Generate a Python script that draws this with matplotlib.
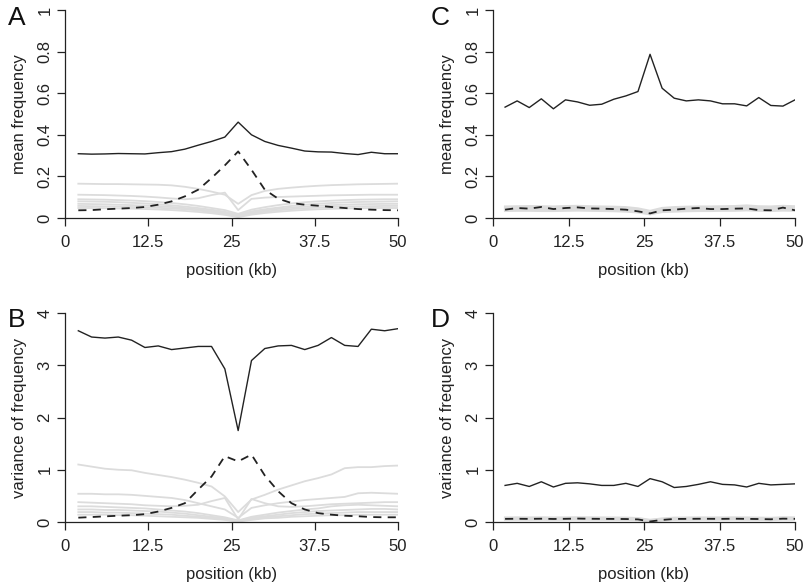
import matplotlib
matplotlib.use("Agg")
import matplotlib.pyplot as plt

plt.rcParams['font.family'] = ['Liberation Sans', 'DejaVu Sans']

# positions (kb)
pos = [2, 4, 6, 8, 10, 12, 14, 16, 18, 20, 22, 24, 26,
       28, 30, 32, 34, 36, 38, 40, 42, 44, 46, 48, 50]
xticks = [0, 12.5, 25, 37.5, 50]
xticklabels = ['0', '12.5', '25', '37.5', '50']

# ---- panel A : mean frequency ----
meanA_solid = [0.309, 0.307, 0.308, 0.310, 0.309, 0.308, 0.314, 0.319, 0.331, 0.350, 0.368, 0.389, 0.461,
               0.400, 0.368, 0.349, 0.336, 0.322, 0.318, 0.317, 0.310, 0.305, 0.316, 0.309, 0.309]
meanA_dash = [0.037, 0.038, 0.042, 0.045, 0.048, 0.053, 0.064, 0.080, 0.104, 0.136, 0.192, 0.253, 0.320,
              0.232, 0.136, 0.093, 0.072, 0.064, 0.059, 0.053, 0.048, 0.043, 0.040, 0.038, 0.037]
meanA_grey = [
    [0.165, 0.164, 0.163, 0.163, 0.162, 0.161, 0.160, 0.157, 0.150, 0.140, 0.127, 0.112, 0.068,
     0.110, 0.130, 0.140, 0.146, 0.151, 0.155, 0.158, 0.160, 0.162, 0.163, 0.164, 0.165],
    [0.112, 0.111, 0.110, 0.108, 0.106, 0.103, 0.099, 0.094, 0.090, 0.095, 0.110, 0.122, 0.038,
     0.092, 0.098, 0.101, 0.103, 0.105, 0.107, 0.109, 0.110, 0.111, 0.112, 0.112, 0.112],
    [0.090, 0.089, 0.088, 0.086, 0.084, 0.081, 0.077, 0.072, 0.066, 0.058, 0.048, 0.038, 0.020,
     0.040, 0.052, 0.062, 0.070, 0.076, 0.080, 0.083, 0.086, 0.088, 0.089, 0.090, 0.090],
    [0.080, 0.079, 0.078, 0.076, 0.073, 0.070, 0.066, 0.061, 0.055, 0.048, 0.040, 0.030, 0.015,
     0.032, 0.042, 0.050, 0.058, 0.064, 0.069, 0.072, 0.075, 0.077, 0.078, 0.079, 0.080],
    [0.068, 0.067, 0.066, 0.064, 0.062, 0.060, 0.057, 0.053, 0.048, 0.042, 0.034, 0.024, 0.010,
     0.026, 0.036, 0.044, 0.050, 0.055, 0.059, 0.062, 0.064, 0.066, 0.067, 0.068, 0.068],
    [0.058, 0.057, 0.056, 0.055, 0.053, 0.051, 0.049, 0.046, 0.042, 0.036, 0.029, 0.020, 0.007,
     0.021, 0.030, 0.037, 0.043, 0.047, 0.050, 0.053, 0.055, 0.056, 0.057, 0.058, 0.058],
    [0.048, 0.048, 0.047, 0.046, 0.045, 0.043, 0.041, 0.038, 0.034, 0.029, 0.023, 0.015, 0.004,
     0.016, 0.024, 0.030, 0.035, 0.039, 0.042, 0.044, 0.046, 0.047, 0.048, 0.048, 0.048],
]

# ---- panel B : variance of frequency ----
varB_solid = [3.66, 3.54, 3.52, 3.54, 3.48, 3.34, 3.37, 3.30, 3.33, 3.36, 3.36, 2.93, 1.75,
              3.09, 3.32, 3.37, 3.38, 3.30, 3.38, 3.53, 3.38, 3.36, 3.69, 3.66, 3.70]
varB_dash = [0.083, 0.095, 0.108, 0.12, 0.13, 0.15, 0.20, 0.27, 0.36, 0.62, 0.87, 1.26, 1.16,
             1.29, 0.89, 0.59, 0.36, 0.24, 0.17, 0.14, 0.12, 0.11, 0.095, 0.09, 0.09]
varB_grey = [
    [1.10, 1.06, 1.02, 1.00, 0.99, 0.94, 0.90, 0.86, 0.81, 0.75, 0.68, 0.49, 0.19,
     0.43, 0.52, 0.62, 0.70, 0.78, 0.84, 0.91, 1.03, 1.05, 1.05, 1.07, 1.08],
    [0.54, 0.54, 0.53, 0.53, 0.52, 0.50, 0.48, 0.46, 0.42, 0.36, 0.30, 0.24, 0.08,
     0.27, 0.32, 0.36, 0.39, 0.42, 0.44, 0.46, 0.48, 0.55, 0.56, 0.55, 0.54],
    [0.38, 0.37, 0.36, 0.35, 0.34, 0.32, 0.31, 0.30, 0.31, 0.33, 0.40, 0.46, 0.05,
     0.44, 0.36, 0.30, 0.29, 0.30, 0.32, 0.34, 0.35, 0.36, 0.37, 0.38, 0.38],
    [0.30, 0.30, 0.29, 0.28, 0.27, 0.26, 0.24, 0.22, 0.20, 0.17, 0.13, 0.09, 0.03,
     0.10, 0.14, 0.18, 0.21, 0.24, 0.26, 0.30, 0.32, 0.33, 0.32, 0.31, 0.30],
    [0.24, 0.24, 0.23, 0.23, 0.22, 0.21, 0.20, 0.18, 0.16, 0.13, 0.10, 0.07, 0.02,
     0.08, 0.11, 0.14, 0.17, 0.19, 0.21, 0.22, 0.23, 0.24, 0.25, 0.25, 0.24],
    [0.19, 0.19, 0.18, 0.18, 0.17, 0.16, 0.15, 0.14, 0.12, 0.10, 0.08, 0.05, 0.01,
     0.06, 0.09, 0.11, 0.13, 0.15, 0.16, 0.17, 0.18, 0.19, 0.19, 0.19, 0.19],
    [0.14, 0.14, 0.14, 0.13, 0.13, 0.12, 0.11, 0.10, 0.09, 0.08, 0.06, 0.04, 0.01,
     0.04, 0.07, 0.08, 0.10, 0.11, 0.12, 0.13, 0.13, 0.14, 0.14, 0.14, 0.14],
]

# ---- panel C : mean frequency ----
meanC_solid = [0.533, 0.563, 0.531, 0.573, 0.525, 0.568, 0.558, 0.542, 0.547, 0.571, 0.587, 0.608, 0.787,
               0.624, 0.576, 0.563, 0.568, 0.563, 0.549, 0.549, 0.539, 0.579, 0.541, 0.538, 0.568]
meanC_dash = [0.040, 0.048, 0.045, 0.053, 0.043, 0.048, 0.051, 0.046, 0.045, 0.043, 0.040, 0.032, 0.022,
              0.037, 0.040, 0.045, 0.048, 0.043, 0.043, 0.045, 0.046, 0.038, 0.037, 0.050, 0.037]
meanC_grey = [
    [0.055, 0.056, 0.057, 0.056, 0.055, 0.057, 0.058, 0.056, 0.055, 0.054, 0.052, 0.046, 0.034,
     0.048, 0.052, 0.054, 0.055, 0.055, 0.056, 0.057, 0.060, 0.056, 0.055, 0.058, 0.056],
    [0.050, 0.051, 0.052, 0.051, 0.050, 0.052, 0.053, 0.051, 0.050, 0.049, 0.047, 0.041, 0.030,
     0.043, 0.047, 0.049, 0.050, 0.050, 0.051, 0.052, 0.054, 0.051, 0.050, 0.053, 0.051],
    [0.046, 0.047, 0.047, 0.046, 0.046, 0.047, 0.048, 0.047, 0.046, 0.045, 0.043, 0.037, 0.027,
     0.039, 0.043, 0.045, 0.046, 0.046, 0.047, 0.047, 0.049, 0.047, 0.046, 0.048, 0.047],
    [0.042, 0.043, 0.043, 0.042, 0.042, 0.043, 0.044, 0.043, 0.042, 0.041, 0.039, 0.034, 0.024,
     0.036, 0.039, 0.041, 0.042, 0.042, 0.043, 0.043, 0.045, 0.043, 0.042, 0.044, 0.043],
    [0.038, 0.039, 0.039, 0.038, 0.038, 0.039, 0.040, 0.039, 0.038, 0.037, 0.035, 0.030, 0.021,
     0.032, 0.035, 0.037, 0.038, 0.038, 0.039, 0.039, 0.041, 0.039, 0.038, 0.040, 0.039],
    [0.034, 0.035, 0.035, 0.034, 0.034, 0.035, 0.036, 0.035, 0.034, 0.033, 0.031, 0.027, 0.018,
     0.029, 0.031, 0.033, 0.034, 0.034, 0.035, 0.035, 0.037, 0.035, 0.034, 0.036, 0.035],
]

# ---- panel D : variance of frequency ----
varD_solid = [0.70, 0.74, 0.68, 0.77, 0.67, 0.74, 0.75, 0.73, 0.70, 0.70, 0.74, 0.68, 0.83,
              0.77, 0.66, 0.68, 0.72, 0.77, 0.72, 0.71, 0.67, 0.74, 0.71, 0.72, 0.73]
varD_dash = [0.060, 0.062, 0.060, 0.063, 0.058, 0.061, 0.066, 0.062, 0.060, 0.059, 0.057, 0.050, 0.010,
             0.040, 0.058, 0.060, 0.062, 0.061, 0.060, 0.063, 0.060, 0.057, 0.052, 0.064, 0.060]
varD_grey = [
    [0.085, 0.086, 0.085, 0.087, 0.084, 0.086, 0.088, 0.086, 0.085, 0.084, 0.082, 0.074, 0.040,
     0.066, 0.082, 0.084, 0.086, 0.085, 0.085, 0.087, 0.085, 0.082, 0.078, 0.088, 0.085],
    [0.075, 0.076, 0.075, 0.077, 0.074, 0.076, 0.078, 0.076, 0.075, 0.074, 0.072, 0.064, 0.030,
     0.056, 0.072, 0.074, 0.076, 0.075, 0.075, 0.077, 0.075, 0.072, 0.068, 0.078, 0.075],
    [0.066, 0.067, 0.066, 0.068, 0.065, 0.067, 0.069, 0.067, 0.066, 0.065, 0.063, 0.055, 0.022,
     0.047, 0.063, 0.065, 0.067, 0.066, 0.066, 0.068, 0.066, 0.063, 0.059, 0.069, 0.066],
    [0.055, 0.056, 0.055, 0.057, 0.054, 0.056, 0.058, 0.056, 0.055, 0.054, 0.052, 0.045, 0.015,
     0.038, 0.052, 0.054, 0.056, 0.055, 0.055, 0.057, 0.055, 0.052, 0.048, 0.058, 0.055],
    [0.045, 0.046, 0.045, 0.047, 0.044, 0.046, 0.048, 0.046, 0.045, 0.044, 0.042, 0.036, 0.010,
     0.030, 0.042, 0.044, 0.046, 0.045, 0.045, 0.047, 0.045, 0.042, 0.038, 0.048, 0.045],
]

meanticks = [0, 0.2, 0.4, 0.6, 0.8, 1]
meanticklabels = ['0', '0.2', '0.4', '0.6', '0.8', '1']
varticks = [0, 1, 2, 3, 4]
varticklabels = ['0', '1', '2', '3', '4']

W, H = 805, 585
fig = plt.figure(figsize=(W / 100, H / 100), dpi=100)


def make_ax(l, t, r, b):
    return fig.add_axes([l / W, 1 - b / H, (r - l) / W, (b - t) / H])


def draw(ax, solid, dash, greys, ymax, yticks, yticklabels, ylabel, greylw):
    for g in greys:
        ax.plot(pos, g, color='#dcdcdc', lw=greylw, solid_joinstyle='round', zorder=1)
    ax.plot(pos, dash, color='#222222', lw=1.3, dashes=(4.5, 3.5), zorder=2)
    ax.plot(pos, solid, color='#222222', lw=1.0, zorder=3)
    ax.set_xlim(0, 50)
    ax.set_ylim(0, ymax)
    for s in ['top', 'right']:
        ax.spines[s].set_visible(False)
    for s in ['left', 'bottom']:
        ax.spines[s].set_linewidth(0.9)
        ax.spines[s].set_color('#222222')
    ax.set_xticks(xticks)
    ax.set_xticklabels(xticklabels)
    ax.set_yticks(yticks)
    ax.set_yticklabels(yticklabels, rotation=90, va='center')
    ax.tick_params(direction='out', length=6, width=0.9, color='#222222',
                   labelsize=12, labelcolor='#222222')
    ax.tick_params(axis='x', pad=6)
    ax.tick_params(axis='y', pad=3)
    ax.set_xlabel('position (kb)', fontsize=12, color='#222222', va='center')
    ax.xaxis.set_label_coords(0.5, -0.25)
    ax.set_ylabel(ylabel, fontsize=12, color='#222222')
    return ax


axA = make_ax(65, 10, 398, 218)
draw(axA, meanA_solid, meanA_dash, meanA_grey, 1, meanticks, meanticklabels,
     'mean frequency', 1.3)
axA.yaxis.set_label_coords(-0.115, 0.5)

axC = make_ax(493, 10, 795, 218)
draw(axC, meanC_solid, meanC_dash, meanC_grey, 1, meanticks, meanticklabels,
     'mean frequency', 1.6)
axC.yaxis.set_label_coords(-0.127, 0.5)

axB = make_ax(65, 313, 398, 522)
draw(axB, varB_solid, varB_dash, varB_grey, 4, varticks, varticklabels,
     'variance of frequency', 1.3)
axB.yaxis.set_label_coords(-0.115, 0.5)

axD = make_ax(493, 313, 795, 522)
draw(axD, varD_solid, varD_dash, varD_grey, 4, varticks, varticklabels,
     'variance of frequency', 1.6)
axD.yaxis.set_label_coords(-0.127, 0.5)

for letter, x, y in [('A', 17, 18), ('C', 440, 18), ('B', 17, 320), ('D', 440, 320)]:
    fig.text(x / W, 1 - y / H, letter, fontsize=19, ha='center', va='center',
             color='#111111')

fig.savefig('out.png', dpi=100)
